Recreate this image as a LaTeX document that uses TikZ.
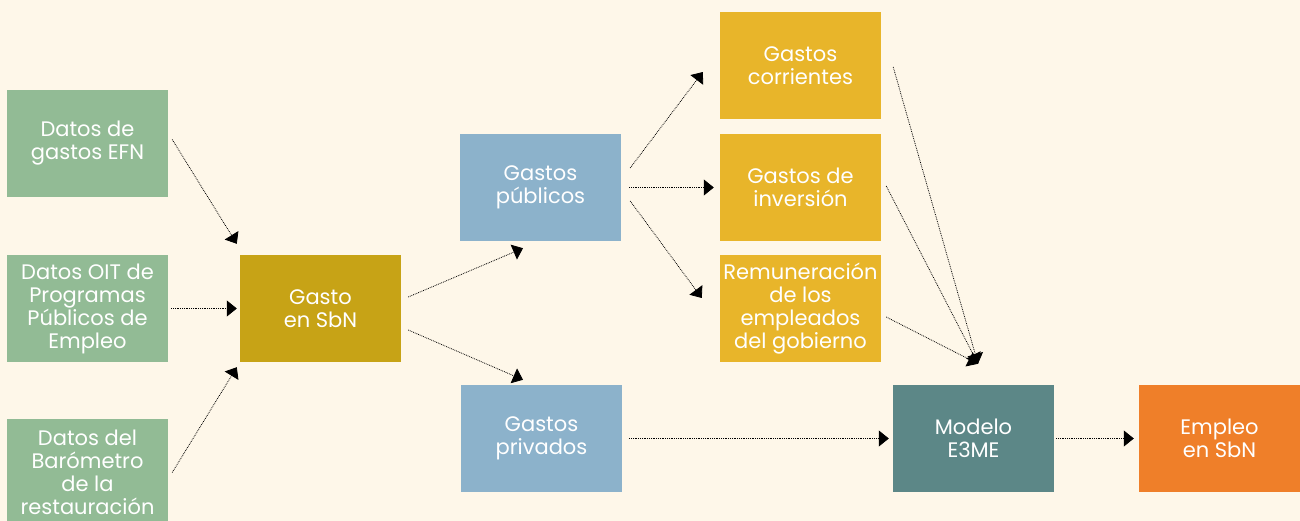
\documentclass[tikz,border=0pt]{standalone}
\usepackage{fontspec}
\setmainfont{Poppins}
\usetikzlibrary{arrows.meta, calc, positioning}
\definecolor{themeBg}{HTML}{FEF7E9}
\definecolor{themeGreen}{RGB}{146, 187, 149}
\definecolor{themeOlive}{RGB}{199, 163, 22}
\definecolor{themeBlue}{RGB}{140, 178, 203}
\definecolor{themeGold}{RGB}{232, 181, 42}
\definecolor{themeTeal}{RGB}{92, 135, 135}
\definecolor{themeOrange}{RGB}{239, 127, 41}

\begin{document}
\begin{tikzpicture} [
        x=1pt, y=-1pt,
        box/.style={minimum width=161pt, minimum height=107pt, inner sep=0pt, align=center, text=white, font=\fontsize{21}{23}\selectfont},
        source/.style={box, fill=themeGreen},
        total/.style={box, fill=themeOlive},
        sector/.style={box, fill=themeBlue},
        item/.style={box, fill=themeGold},
        model/.style={box, fill=themeTeal},
        result/.style={box, fill=themeOrange},
        flow/.style={line width=0.8pt, dash pattern=on 0.8pt off 1pt, -{Triangle[length=10pt, width=16pt]}}
    ]

    \useasboundingbox (0,0) rectangle (1300,521);
    \fill[themeBg] (0,0) rectangle (1300,521);
    \clip (0,0) rectangle (1300,521);

    \foreach \name/\y/\txt in {efn/143.5/{Datos de\\gastos EFN}, oit/308.5/{Datos OIT de\\Programas\\Públicos de\\Empleo}, baro/472.5/{Datos del\\Barómetro\\de la\\restauración}} {
        \node[source] (\name) at (87.5,\y) {\txt};
    }

    \node[total] (gasto) at (320.5,308.5) {Gasto\\en SbN};

    \node[sector] (pub) at (540.5,187.5) {Gastos\\públicos};
    \node[sector] (priv) at (541.5,438.5) {Gastos\\privados};

    \node[item] (corr) at (800.5,65.5) {Gastos\\corrientes};
    \node[item] (inv) at (800.5,187.5) {Gastos de\\inversión};
    \node[item] (rem) at (800.5,308.5) {Remuneración\\de los\\empleados\\del gobierno};

    \node[model] (e3me) at (973.5,438.5) {Modelo\\E3ME};
    \node[result] (empleo) at (1219.5,438.5) {Empleo\\en SbN};

    \draw[flow] ($(efn.east)+(4,-4)$) -- ($(gasto.north west)+(-3,-11)$);
    \draw[flow] ($(oit.east)+(3,0)$) -- ($(gasto.west)+(-3,0)$);
    \draw[flow] ($(baro.east)+(4,0)$) -- ($(gasto.south west)+(-3,5)$);

    \draw[flow] ($(gasto.east)+(7,-11.5)$) -- ($(pub.south)+(-17.5,7)$);
    \draw[flow] ($(gasto.east)+(7,21.5)$) -- ($(priv.north)+(-18.5,-5)$);

    \draw[flow] ($(pub.east)+(9,-19.5)$) -- ($(corr.west)+(-17,6.5)$);
    \draw[flow] ($(pub.east)+(8,0)$) -- ($(inv.west)+(-6,0)$);
    \draw[flow] ($(pub.east)+(9,13.5)$) -- ($(rem.west)+(-18,-10.5)$);

    \draw[flow] ($(corr.east)+(12,1.5)$) -- ($(e3me.north)+(4.5,-21)$);
    \draw[flow] ($(inv.east)+(5,-1.5)$) -- ($(e3me.north)+(4.5,-21)$);
    \draw[flow] ($(rem.east)+(5,8.5)$) -- ($(e3me.north)+(4.5,-21)$);

    \draw[flow] ($(priv.east)+(7,0)$) -- ($(e3me.west)+(-4,0)$);
    \draw[flow] ($(e3me.east)+(2,0)$) -- ($(empleo.west)+(-5,0)$);

\end{tikzpicture}
\end{document}
